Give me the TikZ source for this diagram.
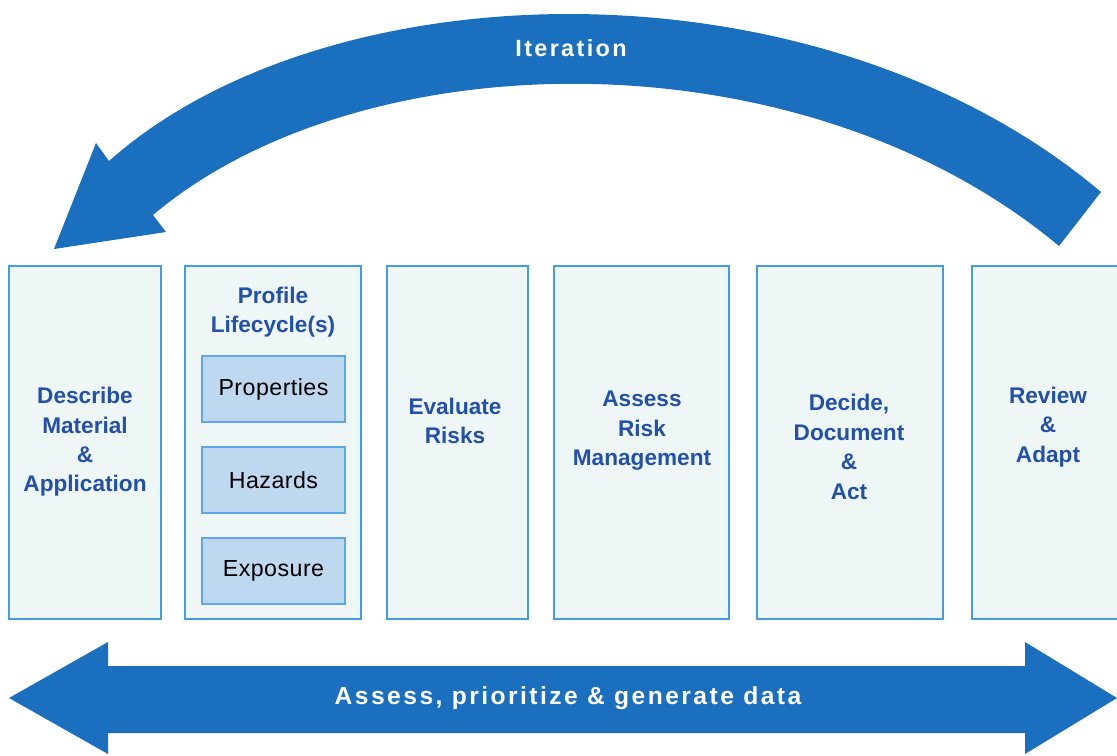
\documentclass[tikz,border=0pt]{standalone}
\usepackage{fontspec}
\setmainfont{Liberation Sans}
\newfontfamily\titlefont{Liberation Sans}
\newfontfamily\innerfont[LetterSpace=2]{Liberation Sans}
\newfontfamily\iterfont[LetterSpace=10]{Liberation Sans}
\newfontfamily\arrowfont[LetterSpace=10]{Liberation Sans}
\usetikzlibrary{fit}
\definecolor{arrowblue}{RGB}{26,111,191}
\definecolor{boxfill}{RGB}{239,247,246}
\definecolor{boxline}{RGB}{66,157,226}
\definecolor{innerfill}{RGB}{190,216,240}
\definecolor{innerline}{RGB}{95,166,228}
\definecolor{titleblue}{RGB}{34,80,170}
\tikzset{
  stagebox/.style={draw=boxline, fill=boxfill, line width=1.4pt, inner sep=0pt},
  subbox/.style={draw=innerline, fill=innerfill, line width=1.2pt, inner sep=0pt},
  title/.style={text=titleblue, align=center, font=\titlefont\bfseries\fontsize{19.3}{25.1}\selectfont, inner sep=0pt},
  subtext/.style={text=black, font=\innerfont\fontsize{19.8}{22}\selectfont, inner sep=0pt},
  itertext/.style={text=white, font=\iterfont\bfseries\fontsize{20}{22}\selectfont, inner sep=0pt},
  arrowtext/.style={text=white, font=\arrowfont\bfseries\fontsize{21}{23}\selectfont, inner sep=0pt},
  bigarrow/.style={fill=arrowblue, draw=none}
}
\begin{document}
\begin{tikzpicture}[x=0.03cm, y=-0.03cm]
\useasboundingbox (0,0) rectangle (1117,756);
% iteration arrow
\fill[bigarrow] (109,161) .. controls (330,-35) and (820,-45) .. (1101,192)
  -- (1059,246) .. controls (800,30) and (360,40) .. (153,215)
  -- (166,232) -- (54,249) -- (96,143) -- cycle;
\node[itertext] (iter) at (571,48) {Iteration};
% bottom double arrow
\fill[bigarrow] (9,698) -- (108,642) -- (108,666) -- (1025,666) -- (1025,642)
  -- (1117,698) -- (1025,754) -- (1025,733) -- (108,733) -- (108,754) -- cycle;
\node[arrowtext] (data) at (568,698) {Assess, prioritize \& generate data};
% stage boxes
\node[stagebox, fit={(9,266) (161,619)}] (b1) {};
\node[stagebox, fit={(185,266) (361,619)}] (b2) {};
\node[stagebox, fit={(387,266) (528,619)}] (b3) {};
\node[stagebox, fit={(554,266) (729,619)}] (b4) {};
\node[stagebox, fit={(757,266) (943,619)}] (b5) {};
\node[stagebox, fit={(972,266) (1126,619)}] (b6) {};
% inner boxes
\node[subbox, fit={(202,356) (345,422)}] (p1) {};
\node[subbox, fit={(202,447) (345,513)}] (p2) {};
\node[subbox, fit={(202,538) (345,604)}] (p3) {};
\node[subtext] (p1t) at (p1.center) {Properties};
\node[subtext] (p2t) at (p2.center) {Hazards};
\node[subtext] (p3t) at (p3.center) {Exposure};
% titles
\node[title] (t1) at (85,442) {Describe\\Material\\\&\\Application};
\node[title] (t2) at (273,312) {Profile\\Lifecycle(s)};
\node[title] (t3) at (455,421) {Evaluate\\Risks};
\node[title] (t4) at (642,431) {Assess\\Risk\\Management};
\node[title] (t5) at (849,447) {Decide,\\Document\\\&\\Act};
\node[title] (t6) at (1048,427) {Review\\\&\\Adapt};
\end{tikzpicture}
\end{document}
